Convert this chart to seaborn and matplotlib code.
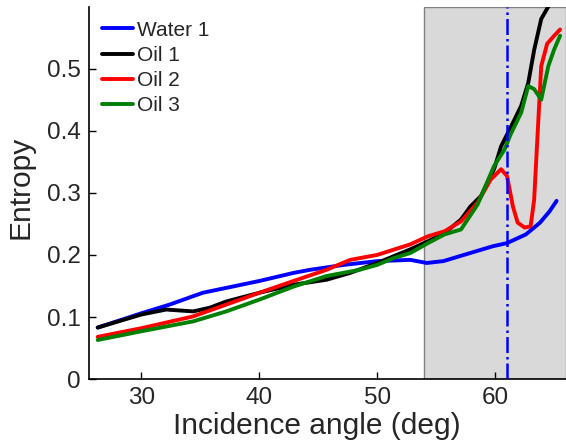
import numpy as np
import pandas as pd
import matplotlib
matplotlib.use("Agg")
import matplotlib.pyplot as plt
import seaborn as sns

# ---- data ----
water1_x = [26.3, 30.0, 32.4, 35.2, 40.0, 42.9, 44.3, 47.2, 50.0, 52.8, 54.2, 55.6, 57.0, 58.4, 59.8, 61.0, 62.6, 63.8, 64.6, 65.2]
water1_y = [0.083, 0.106, 0.120, 0.139, 0.158, 0.171, 0.176, 0.184, 0.190, 0.192, 0.187, 0.190, 0.198, 0.206, 0.214, 0.219, 0.233, 0.252, 0.270, 0.287]

oil1_x = [26.3, 30.0, 32.1, 34.4, 35.8, 37.2, 40.0, 42.9, 45.7, 47.7, 50.0, 51.4, 52.8, 54.3, 55.7, 57.1, 57.9, 58.8, 59.9, 60.5, 61.3, 62.2, 62.8, 63.3, 63.9, 64.5, 65.0]
oil1_y = [0.083, 0.104, 0.112, 0.109, 0.115, 0.125, 0.139, 0.152, 0.160, 0.171, 0.187, 0.198, 0.209, 0.222, 0.235, 0.257, 0.278, 0.295, 0.338, 0.375, 0.405, 0.440, 0.477, 0.530, 0.580, 0.600, 0.620]

oil2_x = [26.3, 30.0, 34.4, 37.2, 40.0, 42.9, 45.7, 47.7, 50.0, 52.8, 54.3, 55.7, 57.1, 58.5, 59.6, 60.5, 61.0, 61.5, 61.9, 62.5, 63.0, 63.3, 63.6, 63.9, 64.4, 65.0, 65.5]
oil2_y = [0.068, 0.082, 0.101, 0.120, 0.139, 0.158, 0.176, 0.192, 0.200, 0.217, 0.230, 0.238, 0.254, 0.284, 0.321, 0.338, 0.327, 0.278, 0.252, 0.244, 0.246, 0.289, 0.397, 0.504, 0.540, 0.553, 0.563]

oil3_x = [26.3, 30.0, 34.4, 37.2, 40.0, 42.9, 45.7, 48.5, 50.0, 51.4, 52.8, 54.3, 55.7, 57.1, 58.5, 59.9, 60.8, 61.3, 62.2, 62.8, 63.3, 63.9, 64.5, 65.0, 65.5]
oil3_y = [0.063, 0.077, 0.093, 0.109, 0.128, 0.149, 0.166, 0.176, 0.184, 0.195, 0.203, 0.219, 0.233, 0.241, 0.281, 0.343, 0.370, 0.394, 0.429, 0.472, 0.467, 0.450, 0.504, 0.531, 0.553]

series_names = ["Water 1", "Oil 1", "Oil 2", "Oil 3"]
series_colors = ["#0000ff", "#000000", "#ff0000", "#008000"]
shade_start, shade_end = 54.0, 66.0
critical_angle = 61.0
x_ticks = [30, 40, 50, 60]
y_ticks = [0, 0.1, 0.2, 0.3, 0.4, 0.5]
y_tick_labels = ["0", "0.1", "0.2", "0.3", "0.4", "0.5"]

frames = []
for name, xs, ys in zip(series_names,
                        [water1_x, oil1_x, oil2_x, oil3_x],
                        [water1_y, oil1_y, oil2_y, oil3_y]):
    frames.append(pd.DataFrame({"angle": xs, "entropy": ys, "series": name}))
df = pd.concat(frames, ignore_index=True)

sns.set_style("ticks")
plt.rcParams["font.family"] = ["Liberation Sans", "DejaVu Sans"]

fig = plt.figure(figsize=(5.66, 4.46), dpi=100)
ax = fig.add_axes([0.157, 0.150, 0.843, 0.834])

ax.axvspan(shade_start, shade_end, facecolor="#d9d9d9", edgecolor="#808080", linewidth=1.0, zorder=0)

sns.lineplot(data=df, x="angle", y="entropy", hue="series", hue_order=series_names,
             palette=dict(zip(series_names, series_colors)), linewidth=2.8,
             sort=False, estimator=None, ax=ax, zorder=3)

ax.axvline(critical_angle, color="#0000ff", linestyle="-.", linewidth=1.8, zorder=4)

ax.set_xlim(25.55, 66.0)
ax.set_ylim(0, 0.599)
ax.set_xticks(x_ticks)
ax.set_yticks(y_ticks)
ax.set_yticklabels(y_tick_labels)
ax.tick_params(direction="in", length=5, width=1, labelsize=17.5, color="black", pad=6)
ax.set_xlabel("Incidence angle (deg)", fontsize=21.5)
ax.xaxis.set_label_coords(0.477, -0.089, transform=ax.transAxes)
ax.xaxis.label.set_va("top")
ax.set_ylabel("Entropy", fontsize=21.5, labelpad=9)
ax.yaxis.label.set_y(0.515)
for s in ["top", "right"]:
    ax.spines[s].set_visible(False)
for s in ["left", "bottom"]:
    ax.spines[s].set_linewidth(1.2)
    ax.spines[s].set_color("black")

leg = ax.legend(loc="upper left", frameon=False, fontsize=15, handlelength=1.45,
                handletextpad=0.2, labelspacing=0.3, borderaxespad=0.25,
                bbox_to_anchor=(0.0, 1.0))
for line in leg.get_lines():
    line.set_linewidth(2.8)

fig.savefig("out.png", dpi=100)
